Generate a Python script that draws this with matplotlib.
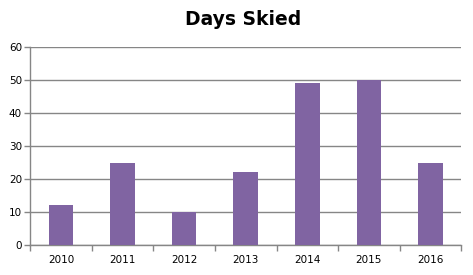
import numpy as np
import matplotlib.pyplot as plt

years = ['2010', '2011', '2012', '2013', '2014', '2015', '2016']
days = [12, 25, 10, 22, 49, 50, 25]

fig = plt.figure(figsize=(4.73, 2.75), dpi=100)
ax = fig.add_axes([0.064, 0.109, 0.911, 0.72])

x = np.arange(len(years))
ax.bar(x, days, width=0.4, color='#8064A2', zorder=3)

ax.set_xlim(-0.5, len(years) - 0.5)
ax.set_ylim(0, 60)
ax.set_yticks(range(0, 61, 10))
ax.set_xticks(x)
ax.set_xticklabels(years)
ax.set_xticks(np.arange(-0.5, len(years)), minor=True)
ax.tick_params(axis='x', which='major', length=0, pad=7, labelsize=7.5)
ax.tick_params(axis='x', which='minor', length=4, color='#868686', width=1)
ax.tick_params(axis='y', length=4, color='#868686', width=1, labelsize=7.5, pad=2)

ax.grid(axis='y', color='#868686', linewidth=1, zorder=0)
for s in ['top', 'right']:
    ax.spines[s].set_visible(False)
for s in ['left', 'bottom']:
    ax.spines[s].set_color('#868686')
    ax.spines[s].set_linewidth(1)

fig.suptitle('Days Skied', x=0.514, y=0.965, fontsize=13.5, fontweight='bold')

fig.savefig('out.png', dpi=100)
